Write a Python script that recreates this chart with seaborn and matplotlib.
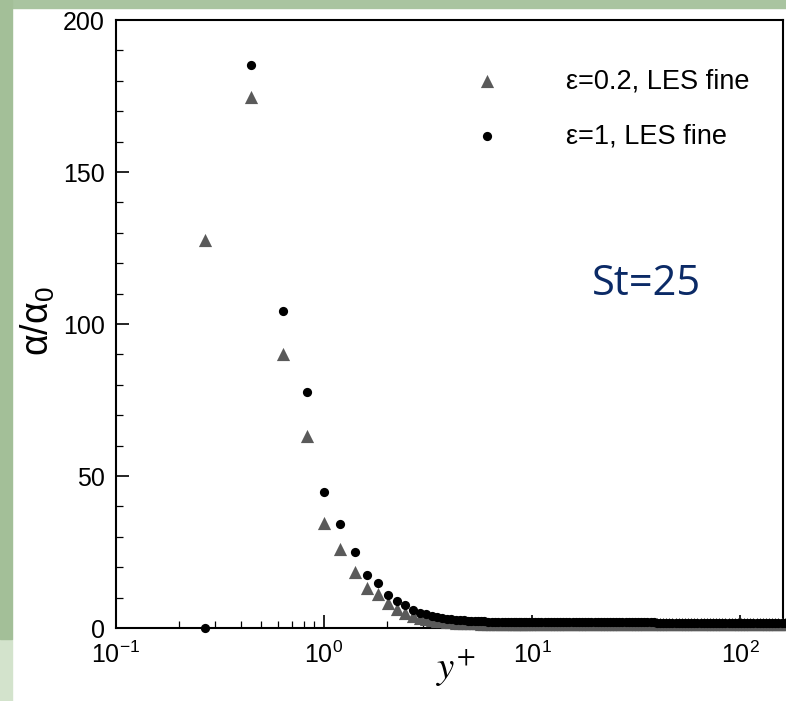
import pandas as pd
import matplotlib
matplotlib.use("Agg")
import matplotlib.pyplot as plt
from matplotlib.patches import Rectangle
from matplotlib.ticker import MultipleLocator, LogLocator, NullFormatter
import seaborn as sns

# y+ positions of the cells
yplus = [0.268, 0.446, 0.633, 0.826, 1.0, 1.19, 1.41, 1.61, 1.82, 2.03,
         2.24, 2.45, 2.68, 2.90,
         3.1, 3.3, 3.5, 3.7, 3.9, 4.1, 4.3, 4.5, 4.7, 4.9,
         5.1, 5.3, 5.5, 5.7, 5.9,
         6.15, 6.4, 6.65, 6.9, 7.15, 7.4, 7.65, 7.9, 8.15, 8.4,
         8.65, 8.9, 9.15, 9.4, 9.65,
         10.0, 10.35, 10.7, 11.1, 11.5, 11.9, 12.3, 12.7, 13.2, 13.6,
         14.1, 14.6, 15.1, 15.7, 16.2, 16.8, 17.4, 18.0, 18.6, 19.3,
         20.0, 20.7, 21.4, 22.1, 22.9, 23.7, 24.5, 25.4, 26.3, 27.2,
         28.2, 29.2, 30.2, 31.3, 32.4, 33.5, 34.7, 35.9, 37.2, 38.5,
         39.8, 41.2, 42.7, 44.2, 45.7, 47.3, 49.0, 50.7, 52.5, 54.3,
         56.2, 58.2, 60.3, 62.4, 64.6, 66.8, 69.2, 71.6, 74.1, 76.7,
         79.4, 82.2, 85.1, 88.1, 91.2, 94.4, 97.7, 101.2, 104.7, 108.4,
         112.2, 116.1, 120.2, 124.5, 128.8, 133.4, 138.0, 142.9, 147.9, 153.1,
         158.5, 164.1, 169.8]

# alpha/alpha0 for eps=0.2 (triangles)
alpha_eps02 = [127.6, 174.8, 90.1, 63.2, 34.6, 26.1, 18.5, 13.3, 11.1, 8.1,
               6.2, 5.0, 3.9, 3.3,
               2.9, 2.6, 2.35, 2.15, 2.0, 1.9, 1.8, 1.7, 1.65, 1.6,
               1.55, 1.5, 1.5, 1.45, 1.45,
               1.4, 1.4, 1.4, 1.4, 1.4, 1.4, 1.35, 1.35, 1.35, 1.35,
               1.35, 1.35, 1.35, 1.35, 1.35,
               1.3, 1.3, 1.3, 1.3, 1.3, 1.3, 1.3, 1.3, 1.3, 1.3,
               1.3, 1.3, 1.3, 1.3, 1.3, 1.3, 1.3, 1.3, 1.3, 1.3,
               1.3, 1.3, 1.3, 1.3, 1.3, 1.3, 1.3, 1.3, 1.3, 1.3,
               1.3, 1.3, 1.3, 1.3, 1.3, 1.3, 1.3, 1.3, 1.3, 1.3,
               1.3, 1.3, 1.3, 1.3, 1.3, 1.3, 1.3, 1.3, 1.3, 1.3,
               1.3, 1.3, 1.3, 1.3, 1.3, 1.3, 1.3, 1.3, 1.3, 1.3,
               1.3, 1.3, 1.3, 1.3, 1.3, 1.3, 1.3, 1.3, 1.3, 1.3,
               1.3, 1.3, 1.3, 1.3, 1.3, 1.3, 1.3, 1.3, 1.3, 1.3,
               1.3, 1.3, 1.3]

# alpha/alpha0 for eps=1 (circles)
alpha_eps1 = [0.0, 185.2, 104.4, 77.5, 44.8, 34.2, 25.0, 17.4, 14.8, 10.9,
              8.9, 7.6, 5.8, 5.0,
              4.5, 4.1, 3.7, 3.4, 3.1, 2.9, 2.75, 2.6, 2.5, 2.4,
              2.35, 2.3, 2.25, 2.2, 2.15,
              2.1, 2.1, 2.05, 2.05, 2.0, 2.0, 2.0, 1.95, 1.95, 1.95,
              1.9, 1.9, 1.9, 1.9, 1.9,
              1.9, 1.9, 1.9, 1.9, 1.9, 1.9, 1.9, 1.9, 1.9, 1.9,
              1.9, 1.9, 1.9, 1.9, 1.9, 1.9, 1.9, 1.9, 1.9, 1.9,
              1.85, 1.85, 1.85, 1.85, 1.85, 1.85, 1.85, 1.85, 1.85, 1.85,
              1.85, 1.85, 1.85, 1.85, 1.85, 1.85, 1.85, 1.85, 1.85, 1.85,
              1.8, 1.8, 1.8, 1.8, 1.8, 1.8, 1.8, 1.8, 1.8, 1.8,
              1.8, 1.8, 1.8, 1.8, 1.8, 1.8, 1.8, 1.8, 1.8, 1.8,
              1.8, 1.8, 1.8, 1.8, 1.8, 1.8, 1.8, 1.8, 1.8, 1.8,
              1.8, 1.8, 1.8, 1.8, 1.8, 1.8, 1.8, 1.8, 1.8, 1.8,
              1.8, 1.8, 1.8]

labels = ["\u03b5=0.2, LES fine", "\u03b5=1, LES fine"]

df = pd.DataFrame({"yplus": yplus, "eps02": alpha_eps02, "eps1": alpha_eps1})

sns.set_style("ticks")
plt.rcParams["font.family"] = ["Liberation Sans", "DejaVu Sans"]
plt.rcParams["mathtext.fontset"] = "stix"
plt.rcParams["text.color"] = "black"
plt.rcParams["xtick.color"] = "black"
plt.rcParams["ytick.color"] = "black"
plt.rcParams["axes.labelcolor"] = "black"

fig = plt.figure(figsize=(7.86, 7.01), dpi=100)
fig.patch.set_facecolor("white")

# green slide-background strips (top and left edges), pixel coords from bottom-left
fig.patches.append(Rectangle((0, 693), 786, 8, transform=None, color="#a9c4a0", zorder=0))
fig.patches.append(Rectangle((0, 0), 12, 62, transform=None, color="#d3e3cc", zorder=0))
fig.patches.append(Rectangle((0, 62), 12, 639, transform=None, color="#a3bf98", zorder=0))

ax = fig.add_axes([116 / 786, 73 / 701, 667 / 786, 608 / 701])

sns.scatterplot(data=df, x="yplus", y="eps02", marker="^", color="#5a5a5a",
                s=90, linewidth=0, label=labels[0], ax=ax, clip_on=False, zorder=3)
sns.scatterplot(data=df, x="yplus", y="eps1", marker="o", color="black",
                s=44, linewidth=0, label=labels[1], ax=ax, clip_on=False, zorder=4)

ax.set_xscale("log")
ax.set_xlim(0.1, 161)
ax.set_ylim(0, 200)

ax.yaxis.set_major_locator(MultipleLocator(50))
ax.yaxis.set_minor_locator(MultipleLocator(10))
ax.xaxis.set_major_locator(LogLocator(base=10))
ax.xaxis.set_minor_locator(LogLocator(base=10, subs=range(2, 10)))
ax.xaxis.set_minor_formatter(NullFormatter())

ax.tick_params(axis="both", which="major", direction="in", length=9.5, width=1.2,
               labelsize=18, top=False, right=False)
ax.tick_params(axis="both", which="minor", direction="in", length=5, width=0.9,
               top=False, right=False)
ax.tick_params(axis="x", which="major", pad=10)
ax.tick_params(axis="y", which="major", pad=8)
for sp in ax.spines.values():
    sp.set_linewidth(1.5)
    sp.set_color("black")

ax.set_xlabel("$y^{+}$", fontsize=28)
ax.xaxis.set_label_coords(0.51, -0.032)
ax.set_ylabel(r"$\mathregular{\alpha/\alpha_0}$", fontsize=27)
ax.yaxis.set_label_coords(-0.088, 0.505)

ax.text(0.795, 0.565, "St=25", transform=ax.transAxes, fontsize=30,
        family="Open Sans", color="#0b2a66", ha="center", va="center")

ax.legend(loc="upper left", bbox_to_anchor=(0.5155, 0.943), frameon=False,
          fontsize=19.5, handlelength=1.0, handletextpad=2.42, labelspacing=1.08,
          borderpad=0, markerscale=1.0)

fig.savefig("out.png", dpi=100)
